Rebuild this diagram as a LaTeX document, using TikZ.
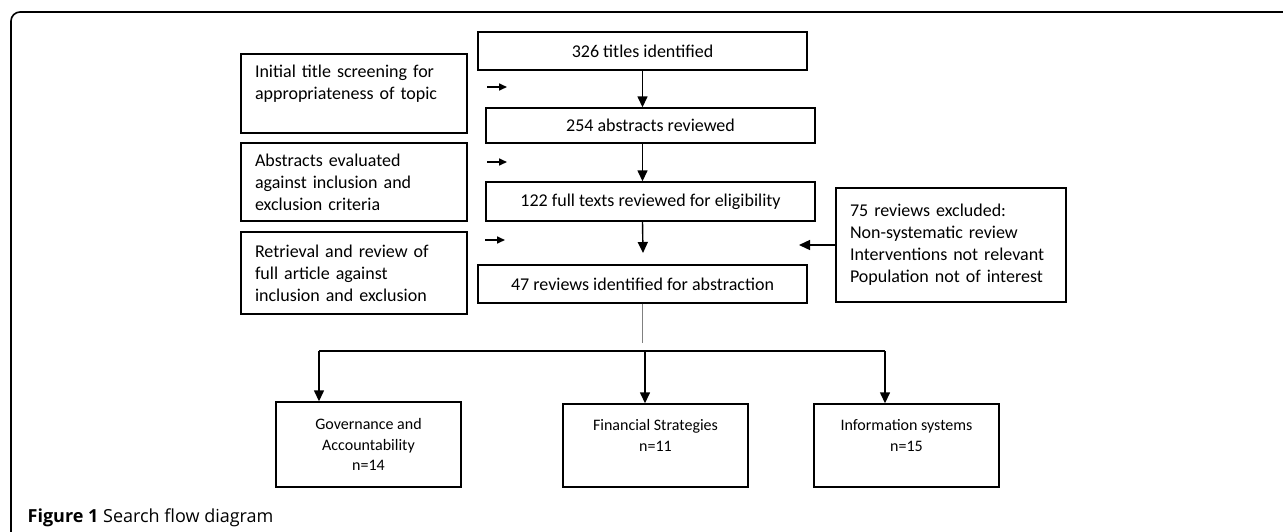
\documentclass[tikz,border=0pt]{standalone}
\usepackage{fontspec}
\setmainfont{Carlito}
\newfontfamily\captionfont{Open Sans}
\usetikzlibrary{arrows.meta}

\begin{document}
\begin{tikzpicture}[x=1pt,y=-1pt,line width=1.4pt,
  flowbox/.style={draw,minimum width=329pt,inner sep=0pt,font=\fontsize{18}{22}\selectfont},
  notebox/.style={draw,minimum width=226pt,text width=198pt,align=left,inner xsep=14pt,inner ysep=0pt,font=\fontsize{18}{22}\selectfont},
  groupbox/.style={draw,minimum width=185pt,align=center,font=\fontsize{16}{20.5}\selectfont},
  >={Triangle[length=11pt,width=10pt]},
  shortarrow/.style={-{Triangle[length=8pt,width=7pt]},line width=1.6pt}]
  \useasboundingbox (0,0) rectangle (1283,531);
  \draw[line width=1.6pt,rounded corners=9pt] (1300,12) -- (11,12) -- (11,545);
  % main flow
  \node[flowbox,minimum height=38pt] (titles) at (642.5,51) {326 titles identified};
  \node[flowbox,minimum height=35pt] (abstracts) at (650.5,125.5) {254 abstracts reviewed};
  \node[flowbox,minimum height=39pt] (fulltexts) at (650.5,201.5) {122 full texts reviewed for eligibility};
  \node[flowbox,minimum height=38pt] (included) at (642.5,284) {47 reviews identified for abstraction};
  % steps on the left
  \node[notebox,minimum height=79pt] (screen) at (354,93.5) {Initial title screening for\\appropriateness of topic\\\mbox{}};
  \node[notebox,minimum height=78pt] (evaluate) at (354,182) {Abstracts evaluated\\against inclusion and\\exclusion criteria};
  \node[notebox,minimum height=82pt] (retrieve) at (354,273) {Retrieval and review of\\full article against\\inclusion and exclusion};
  \node[notebox,minimum width=230pt,text width=202pt,minimum height=114pt] (excluded) at (951,245) {75 reviews excluded:\\Non-systematic review\\Interventions not relevant\\Population not of interest};
  % groups
  \node[groupbox,minimum height=85pt] (governance) at (368.5,444.5) {Governance and\\Accountability\\n=14};
  \node[groupbox,minimum height=83pt] (financial) at (655.5,445.5) {Financial Strategies\\n=11\\\mbox{}};
  \node[groupbox,minimum height=83pt] (information) at (906.5,445.5) {Information systems\\n=15\\\mbox{}};
  \node[anchor=base west,inner sep=0pt,font=\captionfont\fontsize{18}{22}\selectfont] (caption) at (27,522) {\textbf{Figure 1} Search flow diagram};
  % arrows
  \draw[->] (titles.south) -- (titles.south |- abstracts.north);
  \draw[->] (titles.south |- abstracts.south) -- (titles.south |- fulltexts.north);
  \coordinate (gap) at (643,253);
  \draw[->] (titles.south |- fulltexts.south) -- (gap);
  \coordinate (screenfrom) at (487,87);  \coordinate (screento) at (507,87);
  \coordinate (evalfrom) at (487,162);   \coordinate (evalto) at (507,162);
  \coordinate (retrfrom) at (485,240);   \coordinate (retrto) at (505,240);
  \draw[shortarrow] (screenfrom) -- (screento);
  \draw[shortarrow] (evalfrom) -- (evalto);
  \draw[shortarrow] (retrfrom) -- (retrto);
  \coordinate (exclend) at (799,245);
  \draw[->] (excluded.west) -- (exclend);
  % split into groups
  \coordinate (split) at (642.5,343);
  \draw[gray] (included.south) -- (split);
  \coordinate (busleft) at (319,351);
  \coordinate (busmid) at (645,351);
  \coordinate (busright) at (885,351);
  \draw (busleft) -- (busright);
  \draw[->] (busleft) -- (busleft |- governance.north);
  \draw[->] (busmid) -- (busmid |- financial.north);
  \draw[->] (busright) -- (busright |- information.north);
\end{tikzpicture}
\end{document}
